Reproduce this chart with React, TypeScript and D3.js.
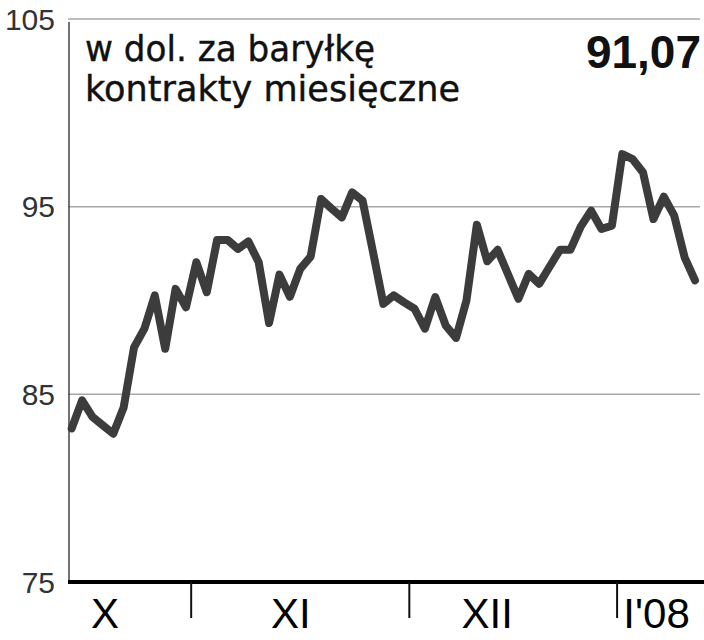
import * as d3 from 'd3';

// ropa naftowa, ceny zamknięcia (trading-day index 0..60)
const prices = [
  83.18, 84.68, 83.8, 83.35, 82.9, 84.3, 87.5, 88.5, 90.27, 87.43, 90.62, 89.64,
  92.04, 90.44, 93.23, 93.23, 92.75, 93.15, 92.04, 88.8, 91.38, 90.2, 91.69,
  92.34, 95.41, 94.9, 94.43, 95.76, 95.32, 92.6, 89.82, 90.27, 89.9,
  89.56, 88.5, 90.18, 88.67, 88.01, 90.0, 94.04, 92.09, 92.7, 91.4, 90.09,
  91.42, 90.89, 91.8, 92.7, 92.7, 93.94, 94.79, 93.81, 93.99,
  97.8, 97.53, 96.82, 94.34, 95.53, 94.52, 92.3, 91.07
];
const yTicks = [75, 85, 95, 105];
const monthBreaks = [11.5, 32.5, 52.5];
const monthLabels = ['X', 'XI', 'XII', "I'08"];
const monthLabelPos = [3.2, 21.1, 40, 56.3];
const titleLines = ['w dol. za baryłkę', 'kontrakty miesięczne'];
const lastValue = '91,07';

export default function App() {
  const width = 704;
  const height = 640;
  const left = 69;
  const right = 700;

  const x = d3.scaleLinear().domain([0, prices.length - 1]).range([71.7, 695]);
  const y = d3.scaleLinear().domain([75, 105]).range([582, 19]);

  const line = d3
    .line<number>()
    .x((_, i) => x(i))
    .y((d) => y(d));

  return (
    <svg
      width={width}
      height={height}
      style={{ position: 'absolute', left: 0, top: 0, background: '#fff' }}
    >
      {/* grid + y labels */}
      {yTicks.map((t) => (
        <g key={t}>
          {t !== 75 && (
            <line
              x1={left - 1}
              x2={right}
              y1={y(t)}
              y2={y(t)}
              stroke={t === 105 ? '#bdbdbd' : '#a8a8a8'}
              strokeWidth={t === 105 ? 2 : 1.5}
            />
          )}
          <text
            x={55}
            y={y(t)}
            dy="0.36em"
            textAnchor="end"
            fontFamily="'Liberation Sans', Arial, sans-serif"
            fontSize={30}
            fill="#333"
          >
            {t}
          </text>
        </g>
      ))}

      {/* y axis */}
      <line x1={left} x2={left} y1={22} y2={582} stroke="#444" strokeWidth={1.5} />

      {/* title */}
      <text
        fontFamily="'DejaVu Sans', sans-serif"
        fontSize={35}
        fill="#111"
        stroke="#111"
        strokeWidth={0.4}
      >
        <tspan x={85} y={61} textLength={290} lengthAdjust="spacingAndGlyphs">
          {titleLines[0]}
        </tspan>
        <tspan x={85} y={101} textLength={375} lengthAdjust="spacingAndGlyphs">
          {titleLines[1]}
        </tspan>
      </text>
      <text
        x={701}
        y={68}
        textAnchor="end"
        fontFamily="'Liberation Sans', Arial, sans-serif"
        fontWeight="bold"
        fontSize={46}
        fill="#111"
      >
        {lastValue}
      </text>

      {/* price line */}
      <path
        d={line(prices) || ''}
        fill="none"
        stroke="#3c3c3c"
        strokeWidth={8}
        strokeLinejoin="round"
        strokeLinecap="round"
      />

      {/* x axis */}
      <line x1={left - 1} x2={right + 4} y1={582} y2={582} stroke="#000" strokeWidth={4} />
      {monthBreaks.map((m) => (
        <line key={m} x1={x(m)} x2={x(m)} y1={582} y2={618} stroke="#111" strokeWidth={2} />
      ))}
      {monthLabels.map((m, i) => (
        <text
          key={m}
          x={x(monthLabelPos[i])}
          y={628}
          textAnchor="middle"
          fontFamily="'Liberation Sans', Arial, sans-serif"
          fontSize={42}
          fill="#000"
        >
          {m}
        </text>
      ))}
    </svg>
  );
}
